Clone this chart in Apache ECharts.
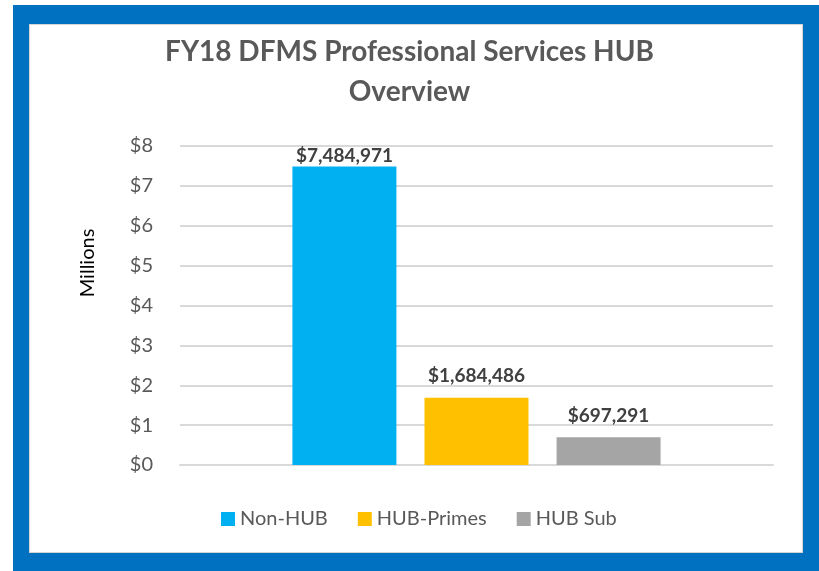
<!DOCTYPE html>
<html>
<head>
<meta charset="utf-8">
<script src="https://cdn.jsdelivr.net/npm/echarts@6/dist/echarts.min.js"></script>
<style>
    html,body{margin:0;padding:0;width:819px;height:571px;background:#fff;overflow:hidden;}
    #frame{position:absolute;left:13px;top:5px;right:0;bottom:0;background:#0070c0;}
    #paper{position:absolute;left:29px;top:24px;width:772px;height:527px;background:#fff;border:1px solid #d4d4d4;}
    #chart{position:absolute;left:0;top:0;width:819px;height:571px;}
</style>
</head>
<body>
<div id="frame"></div>
<div id="paper"></div>
<div id="chart"></div>
<script>
// 数据
var series_names=['Non-HUB','HUB-Primes','HUB Sub'];
var series_values=[7484971,1684486,697291];
var series_colors=['#00b0f0','#ffc000','#a5a5a5'];
var y_ticks=[0,1,2,3,4,5,6,7,8];   // 单位：百万

var font='Lato, "Open Sans", sans-serif';

var chart=echarts.init(document.getElementById('chart'),null,{renderer:'canvas'});

var series=[];
for(var i=0;i<series_names.length;i++){
    series.push({
        name:series_names[i],
        type:'bar',
        barWidth:104,
        barGap:'27%',
        itemStyle:{color:series_colors[i]},
        label:{
            show:true,
            position:'top',
            distance:i===0?1:12,
            fontFamily:font,
            fontSize:19,
            fontWeight:'bold',
            color:'#404040',
            formatter:function (p) {
                return '$'+p.value.toLocaleString('en-US');
            }
        },
        data:[series_values[i]]
    });
}

var option={
    animation:false,
    title:{
        text:'FY18 DFMS Professional Services HUB\nOverview',
        left:'center',
        top:27,
        textStyle:{
            fontFamily:font,
            fontSize:28,
            fontWeight:'bold',
            color:'#595959',
            lineHeight:40
        }
    },
    legend:{
        data:series_names,
        left:216,
        top:504,
        icon:'rect',
        itemWidth:14,
        itemHeight:14,
        itemGap:30,
        textStyle:{fontFamily:font,fontSize:20,color:'#595959'}
    },
    grid:{left:180,right:46,top:146,bottom:106},
    xAxis:{
        type:'category',
        data:[''],
        axisLine:{show:true,lineStyle:{color:'#d9d9d9',width:2}},
        axisTick:{show:false},
        axisLabel:{show:false}
    },
    yAxis:{
        type:'value',
        min:y_ticks[0]*1e6,
        max:y_ticks[y_ticks.length-1]*1e6,
        interval:1e6,
        axisLine:{show:false},
        axisTick:{show:false},
        splitLine:{lineStyle:{color:'#d9d9d9',width:2}},
        axisLabel:{
            margin:27,
            fontFamily:font,
            fontSize:20,
            color:'#595959',
            formatter:function (v) {
                return '$'+(v/1e6);
            }
        }
    },
    graphic:[{
        type:'text',
        x:88,
        y:263,
        rotation:Math.PI/2,
        style:{
            text:'Millions',
            fontFamily:font,
            fontSize:20,
            fill:'#000',
            align:'center',
            verticalAlign:'middle'
        }
    }],
    series:series
};

chart.setOption(option);
</script>
</body>
</html>
